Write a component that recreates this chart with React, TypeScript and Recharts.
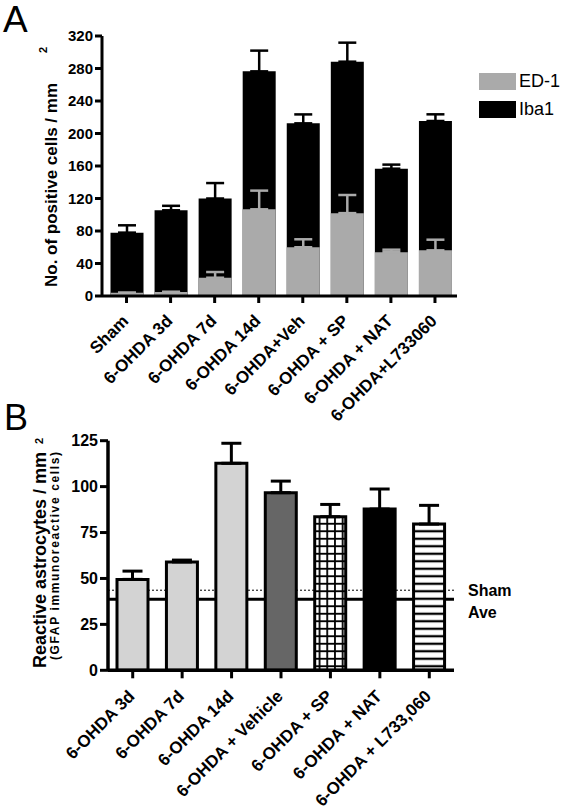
import React from 'react';
import { BarChart, Bar, XAxis, YAxis, ErrorBar, Cell, ReferenceLine, Legend } from 'recharts';

// ---------- Panel A data ----------
const categoriesA = [
  'Sham',
  '6-OHDA 3d',
  '6-OHDA 7d',
  '6-OHDA 14d',
  '6-OHDA+Veh',
  '6-OHDA + SP',
  '6-OHDA + NAT',
  '6-OHDA+L733060',
];
const iba1Values = [78, 105.5, 120, 276.5, 212.5, 288.4, 156.7, 215.4];
const iba1Errors = [9, 5.5, 19, 25.5, 11, 23.4, 5, 8.2];
const ed1Values = [4, 5, 22.5, 106.7, 60, 102, 54, 56.2];
const ed1Errors = [0, 0, 7, 23, 9.8, 22.3, 3, 13.1];
const yTicksA = [0, 40, 80, 120, 160, 200, 240, 280, 320];
const legendOrderA = ['ED-1', 'Iba1'];

// ---------- Panel B data ----------
const categoriesB = [
  '6-OHDA 3d',
  '6-OHDA 7d',
  '6-OHDA 14d',
  '6-OHDA + Vehicle',
  '6-OHDA + SP',
  '6-OHDA + NAT',
  '6-OHDA + L733,060',
];
const astroValues = [49.5, 59, 112.7, 96.7, 83.6, 87.8, 79.6];
const astroErrors = [4.5, 1, 10.9, 6.3, 6.7, 10.9, 10.2];
const yTicksB = [0, 25, 50, 75, 100, 125];
const shamMean = 38.7;
const shamUpper = 43.6;

// styles
const FONT = '"Liberation Sans", Arial, Helvetica, sans-serif';
const fillsB = ['#d3d3d3', '#d3d3d3', '#d3d3d3', '#666666', 'url(#gridPat)', '#000000', 'url(#stripePat)'];

const dataA = categoriesA.map((name, i) => ({
  name,
  iba1: iba1Values[i],
  iba1Err: [0, iba1Errors[i]],
  ed1: ed1Values[i],
  ed1Err: [0, ed1Errors[i]],
}));

const dataB = categoriesB.map((name, i) => ({
  name,
  value: astroValues[i],
  err: [0, astroErrors[i]],
}));

const AngledTick = (props: any) => {
  const { x, y, payload, dy, dx, fontSize } = props;
  const px = x + dx;
  const py = y + dy;
  return (
    <text
      x={px}
      y={py}
      transform={`rotate(-45, ${px}, ${py})`}
      textAnchor="end"
      fontSize={fontSize}
      fontWeight="bold"
      fontFamily={FONT}
      fill="#000"
    >
      {payload.value}
    </text>
  );
};

const LegendA = (props: any) => {
  const items = [...(props.payload || [])].sort(
    (a: any, b: any) => legendOrderA.indexOf(a.value) - legendOrderA.indexOf(b.value)
  );
  return (
    <div style={{ fontFamily: FONT }}>
      {items.map((it: any) => (
        <div key={it.value} style={{ display: 'flex', alignItems: 'center', height: 28 }}>
          <span style={{ display: 'inline-block', width: 37, height: 17, background: it.color, marginRight: 3 }} />
          <span style={{ fontSize: 18, color: '#000' }}>{it.value}</span>
        </div>
      ))}
    </div>
  );
};

export default function App() {
  return (
    <div style={{ position: 'absolute', left: 0, top: 0, width: 566, height: 810, background: '#fff' }}>
      <div style={{ position: 'absolute', left: 0, top: 0 }}>
        <BarChart
          width={566}
          height={440}
          data={dataA}
          margin={{ top: 36, right: 109, left: 42, bottom: 0 }}
          barSize={33}
          barGap={-33}
        >
          <XAxis
            dataKey="name"
            interval={0}
            height={144}
            padding={{ left: 2.5, right: 0 }}
            axisLine={{ stroke: '#000', strokeWidth: 3 }}
            tickLine={{ stroke: '#000', strokeWidth: 3 }}
            tickSize={7}
            tick={<AngledTick dx={3} dy={17} fontSize={17} />}
          />
          <YAxis
            domain={[0, 320]}
            ticks={yTicksA}
            width={60}
            interval={0}
            axisLine={{ stroke: '#000', strokeWidth: 3 }}
            tickLine={{ stroke: '#000', strokeWidth: 3 }}
            tickSize={7}
            tickMargin={2}
            tick={{ fontSize: 15, fontWeight: 'bold', fill: '#000', fontFamily: FONT }}
            label={{
              content: () => (
                <g>
                  <text
                    x={57}
                    y={185}
                    transform="rotate(-90, 57, 185)"
                    textAnchor="middle"
                    fontSize={17}
                    fontWeight="bold"
                    fontFamily={FONT}
                    fill="#000"
                  >
                    No. of positive cells / mm
                  </text>
                  <text
                    x={47}
                    y={50}
                    transform="rotate(-90, 47, 50)"
                    textAnchor="middle"
                    fontSize={11}
                    fontWeight="bold"
                    fontFamily={FONT}
                    fill="#000"
                  >
                    2
                  </text>
                </g>
              ),
            }}
          />
          <Legend
            layout="vertical"
            align="center"
            verticalAlign="middle"
            content={<LegendA />}
            wrapperStyle={{ position: 'absolute', left: 479, top: 67, width: 90 }}
          />
          <Bar dataKey="iba1" name="Iba1" fill="#000000" isAnimationActive={false}>
            <ErrorBar dataKey="iba1Err" direction="y" width={9} stroke="#000" strokeWidth={2.5} isAnimationActive={false} />
          </Bar>
          <Bar dataKey="ed1" name="ED-1" fill="#aaaaaa" isAnimationActive={false}>
            <ErrorBar dataKey="ed1Err" direction="y" width={9} stroke="#aaaaaa" strokeWidth={2.5} isAnimationActive={false} />
          </Bar>
        </BarChart>
      </div>

      <div style={{ position: 'absolute', left: 0, top: 400 }}>
        <BarChart
          width={566}
          height={410}
          data={dataB}
          margin={{ top: 40.7, right: 112, left: 48, bottom: 0 }}
          barSize={31}
        >
          <defs>
            <pattern id="gridPat" patternUnits="userSpaceOnUse" width="7.7" height="7.5">
              <rect width="7.7" height="7.5" fill="#fff" />
              <path d="M0 3.75 H7.7 M3.85 0 V7.5" stroke="#000" strokeWidth="1.8" fill="none" />
            </pattern>
            <pattern id="stripePat" patternUnits="userSpaceOnUse" width="10" height="7.5">
              <rect width="10" height="7.5" fill="#fff" />
              <path d="M0 3.75 H10" stroke="#000" strokeWidth="2.3" fill="none" />
            </pattern>
          </defs>
          <XAxis
            dataKey="name"
            interval={0}
            height={139.7}
            axisLine={{ stroke: '#000', strokeWidth: 3.5 }}
            tickLine={{ stroke: '#000', strokeWidth: 3 }}
            tickSize={8}
            tick={<AngledTick dx={3} dy={17} fontSize={17} />}
          />
          <YAxis
            domain={[0, 125]}
            ticks={yTicksB}
            width={60}
            interval={0}
            axisLine={{ stroke: '#000', strokeWidth: 3.5 }}
            tickLine={{ stroke: '#000', strokeWidth: 3 }}
            tickSize={8}
            tickMargin={2}
            tick={{ fontSize: 16, fontWeight: 'bold', fill: '#000', fontFamily: FONT }}
            label={{
              content: () => (
                <g>
                  <text
                    x={46}
                    y={160}
                    transform="rotate(-90, 46, 160)"
                    textAnchor="middle"
                    fontSize={18}
                    fontWeight="bold"
                    fontFamily={FONT}
                    fill="#000"
                  >
                    Reactive astrocytes / mm
                  </text>
                  <text
                    x={43}
                    y={41}
                    transform="rotate(-90, 43, 41)"
                    textAnchor="middle"
                    fontSize={11}
                    fontWeight="bold"
                    fontFamily={FONT}
                    fill="#000"
                  >
                    2
                  </text>
                  <text
                    x={59}
                    y={156}
                    transform="rotate(-90, 59, 156)"
                    textAnchor="middle"
                    fontSize={12}
                    fontWeight="bold"
                    fontFamily={FONT}
                    fill="#000"
                    textLength={208}
                    lengthAdjust="spacing"
                  >
                    (GFAP immunoreactive cells)
                  </text>
                </g>
              ),
            }}
          />
          <ReferenceLine y={shamUpper} stroke="#000" strokeWidth={1} strokeDasharray="2 2" zIndex={-10} />
          <ReferenceLine y={shamMean} stroke="#000" strokeWidth={3} zIndex={-10} />
          <Bar dataKey="value" stroke="#000" strokeWidth={3} isAnimationActive={false}>
            {dataB.map((d, i) => (
              <Cell key={d.name} fill={fillsB[i]} />
            ))}
            <ErrorBar dataKey="err" direction="y" width={10} stroke="#000" strokeWidth={3} isAnimationActive={false} />
          </Bar>
        </BarChart>
      </div>

      <svg
        width={566}
        height={810}
        style={{ position: 'absolute', left: 0, top: 0, pointerEvents: 'none' }}
      >
        <text x={3} y={31.7} fontSize={37} fontFamily={FONT} fill="#000">A</text>
        <text x={4} y={430} fontSize={36} fontFamily={FONT} fill="#000">B</text>
        <text x={468} y={596} fontSize={16} fontWeight="bold" fontFamily={FONT} fill="#000">Sham</text>
        <text x={468} y={618} fontSize={16} fontWeight="bold" fontFamily={FONT} fill="#000">Ave</text>
      </svg>
    </div>
  );
}
